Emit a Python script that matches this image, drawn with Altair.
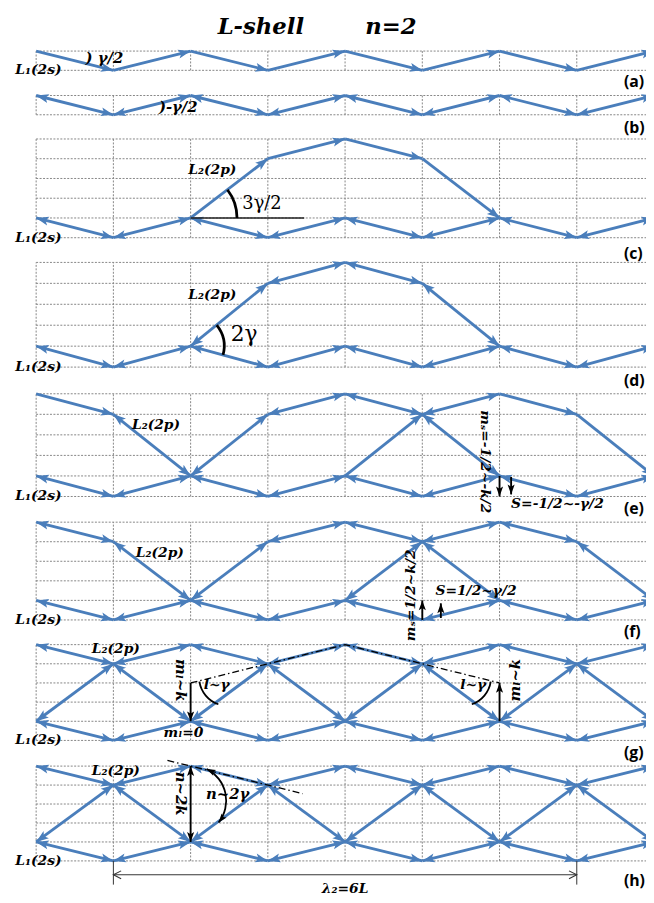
import math
import altair as alt
import pandas as pd

# ---------------- colours / fonts ----------------
BLUE = "#4A7EBB"
GRID = "#858585"
SERIF = "DejaVu Serif"
SANS = "Open Sans"

# ---------------- layout (page pixels) ----------------
WIDTH = 646
COL_PX = 78.2
X0_PX = 28.5
XDOM = [-X0_PX / COL_PX, (WIDTH - X0_PX) / COL_PX]

PANELS = ["a", "b", "c", "d", "e", "f", "g", "h"]
GRID_TOP = [46, 91, 135, 260, 393, 523, 647, 770]
ROW_PX = [19.5, 19.5, 20.0, 21.2, 20.8, 19.8, 19.4, 19.2]
N_ROWS = [1, 1, 5, 5, 5, 5, 5, 5]
REGION_TOP = [8, 84, 128, 250, 380, 510, 635, 758]
REGION_BOT = [84, 128, 250, 380, 510, 635, 758, 903]

# ---------------- data ----------------
GRID_COLS = [0, 1, 2, 3, 4, 5, 6, 7, 8]
L1_LEVELS = [1, 0, 1, 0, 1, 0, 1, 0, 1]
WAVE_COLS = [2, 3, 4, 5, 6]
WAVE_LEVELS = [1, 4, 5, 4, 1]
LATTICE_UPPER = [5, 4, 5, 4, 5, 4, 5, 4, 5]
LATTICE_LOWER = [1, 4, 1, 4, 1, 4, 1, 4, 1]
E_L2_SEGMENTS = [(0, 5, 1, 4, "end"), (1, 4, 2, 1, "both"), (2, 1, 3, 4, "both"),
                 (3, 4, 4, 5, "both"), (4, 5, 5, 4, "both"), (5, 4, 6, 1, "both"),
                 (4, 1, 5, 4, "end"), (5, 4, 6, 5, "both"), (6, 5, 7, 4, "end"),
                 (7, 4, 8, 1, "end")]
F_L2_SEGMENTS = [(0, 5, 1, 4, "both"), (1, 4, 2, 1, "both"), (2, 1, 3, 4, "both"),
                 (3, 4, 4, 5, "both"), (4, 5, 5, 4, "both"), (5, 4, 6, 1, "both"),
                 (4, 1, 5, 4, "both"), (5, 4, 6, 5, "both"), (6, 5, 7, 4, "both"),
                 (7, 4, 8, 1, "both")]

TITLE_TEXTS = [("L-shell", 2.35, 2.23), ("n=2", 4.26, 2.23)]
L1_LABEL = "L₁(2s)"
L2_LABEL = "L₂(2p)"
L1_LABEL_PANELS = ["a", "c", "d", "e", "f", "g", "h"]
L1_LABEL_POS = (-0.27, 0.0)
L2_LABEL_POS = {"c": (1.97, 3.45), "d": (1.97, 3.44), "e": (1.24, 3.46),
                "f": (1.29, 3.43), "g": (0.72, 4.78), "h": (0.72, 4.74)}
TAG_X = 7.61
TAG_Y = {"a": -0.59, "b": -0.69, "c": -0.85, "d": -0.66, "e": -0.63,
         "f": -0.6, "g": -0.67, "h": -1.05}

# (panel, x, y, text, size, angle, align)
ITALIC_NOTES = [
    ("a", 0.64, 0.62, ") γ/2", 15, 0, "left"),
    ("b", 1.59, 0.38, ")-γ/2", 15, 0, "left"),
    ("e", 5.81, 4.2, "mₛ=-1/2~-k/2", 14, 90, "left"),
    ("e", 6.15, -0.38, "S=-1/2~-γ/2", 14, 0, "left"),
    ("f", 4.85, 1.26, "mₛ=1/2~k/2", 14, 270, "center"),
    ("f", 5.17, 1.46, "S=1/2~γ/2", 14, 0, "left"),
    ("g", 1.88, 3.14, "mₗ~k", 15, 90, "center"),
    ("g", 6.2, 3.14, "mₗ~k", 15, 270, "center"),
    ("g", 2.17, 2.9, "l~γ", 14, 0, "left"),
    ("g", 5.49, 2.9, "l~γ", 14, 0, "left"),
    ("g", 1.65, 0.41, "mₗ=0", 14, 0, "left"),
    ("h", 1.88, 3.55, "n~2k", 15, 90, "center"),
    ("h", 2.2, 3.54, "n~2γ", 15, 0, "left"),
    ("h", 4.0, -1.5, "λ₂=6L", 14, 0, "center"),
]
MATH_NOTES = [("c", 2.67, 1.7, "3γ/2", 18), ("d", 2.52, 1.56, "2γ", 22)]

# (panel, x1, y1, x2, y2, heads)
BLACK_ARROWS = [("e", 6, 1, 6, 0, "end"), ("e", 6.15, 0.95, 6.15, 0.1, "end"),
                ("f", 5, 0, 5, 1, "end"), ("f", 5.24, 0.1, 5.24, 0.85, "end"),
                ("g", 2, 3, 2, 1, "end"), ("g", 6, 1, 6, 3, "end"),
                ("h", 2, 5, 2, 1, "both")]
BLACK_LINES = [("c", 2, 1, 3.47, 1)]
DASHDOT = {"g": ([2, 3, 4, 5, 6], [3, 4, 5, 4, 3]), "h": ([1.7, 3.45], [5.3, 3.55])}
# (panel, cx, cy, radius px, theta1 deg, theta2 deg, stroke px, arrows)
ARCS = [("c", 2, 1, 47, 52.5, 90, 2.8, False),
        ("d", 2, 1, 34, 51, 105, 2.8, False),
        ("g", 2.48, 3.3, 29, 199, 261, 1.8, False),
        ("g", 5.52, 3.3, 29, 99, 161, 1.8, False),
        ("h", 2, 3.18, 36, 27, 128, 1.8, True)]
DIM_H = {"x1": 1, "x2": 7, "y": -0.73, "ext": -1.25}

HEAD = "M0,0L0.72,2L0,1.55L-0.72,2Z"
OPEN_HEAD = "M-0.75,1.5L0,0L0.75,1.5"


def zig(cols, levels, heads):
    return [(cols[k], levels[k], cols[k + 1], levels[k + 1], heads) for k in range(len(cols) - 1)]


BLUE_SEGMENTS = {
    "a": zig(GRID_COLS, L1_LEVELS, "end"),
    "b": zig(GRID_COLS, L1_LEVELS, "both"),
    "c": zig(GRID_COLS, L1_LEVELS, "both") + zig(WAVE_COLS, WAVE_LEVELS, "end"),
    "d": zig(GRID_COLS, L1_LEVELS, "both") + zig(WAVE_COLS, WAVE_LEVELS, "both"),
    "e": zig(GRID_COLS, L1_LEVELS, "both") + E_L2_SEGMENTS,
    "f": zig(GRID_COLS, L1_LEVELS, "both") + F_L2_SEGMENTS,
    "g": zig(GRID_COLS, L1_LEVELS, "both") + zig(GRID_COLS, LATTICE_UPPER, "both")
         + zig(GRID_COLS, LATTICE_LOWER, "both"),
    "h": zig(GRID_COLS, L1_LEVELS, "both") + zig(GRID_COLS, LATTICE_UPPER, "both")
         + zig(GRID_COLS, LATTICE_LOWER, "both"),
}


# ---------------- helpers ----------------
def ydom(i):
    T, r, n = GRID_TOP[i], ROW_PX[i], N_ROWS[i]
    return [n - (REGION_BOT[i] - T) / r, n + (T - REGION_TOP[i]) / r]


def xenc(f="x"):
    return alt.X(f"{f}:Q", scale=alt.Scale(domain=XDOM, nice=False, zero=False), axis=None)


def yenc(i, f="y"):
    return alt.Y(f"{f}:Q", scale=alt.Scale(domain=ydom(i), nice=False, zero=False), axis=None)


def head_angle(xa, ya, xb, yb, i):
    dx = (xb - xa) * COL_PX
    dy = -(yb - ya) * ROW_PX[i]
    return math.degrees(math.atan2(dx, -dy)) % 360


def seg_frames(segs, i):
    lines, heads = [], []
    for k, (x1, y1, x2, y2, h) in enumerate(segs):
        lines += [dict(seg=k, o=0, x=x1, y=y1), dict(seg=k, o=1, x=x2, y=y2)]
        heads.append(dict(x=x2, y=y2, ang=head_angle(x1, y1, x2, y2, i)))
        if h == "both":
            heads.append(dict(x=x1, y=y1, ang=head_angle(x2, y2, x1, y1, i)))
    return pd.DataFrame(lines), pd.DataFrame(heads)


def line_layer(df, i, color, width, dash=None, clip=True):
    kw = dict(color=color, strokeWidth=width, clip=clip)
    if dash:
        kw["strokeDash"] = dash
    return alt.Chart(df).mark_line(**kw).encode(
        x=xenc(), y=yenc(i), detail="seg:N", order="o:Q")


def head_layer(df, i, color, size, shape=HEAD, filled=True, clip=True):
    if filled:
        mk = dict(shape=shape, filled=True, color=color, opacity=1, size=size,
                  strokeWidth=0, clip=clip)
    else:
        mk = dict(shape=shape, filled=False, color=color, opacity=1, size=size,
                  strokeWidth=1.1, clip=clip)
    return alt.Chart(df).mark_point(**mk).encode(
        x=xenc(), y=yenc(i), angle=alt.Angle("ang:Q", scale=None))


def text_layer(i, x, y, t, size, font=SERIF, style="italic", weight="bold",
               angle=0, align="left", color="black"):
    df = pd.DataFrame([{"x": x, "y": y, "t": t}])
    kw = dict(font=font, fontSize=size, fontWeight=weight, align=align,
              baseline="middle", color=color)
    if style:
        kw["fontStyle"] = style
    if angle:
        kw["angle"] = angle
    return alt.Chart(df).mark_text(**kw).encode(x=xenc(), y=yenc(i), text="t:N")


def arc_layer(i, cx, cy, r, t1, t2, w):
    df = pd.DataFrame([{"x": cx, "y": cy}])
    return alt.Chart(df).mark_arc(
        color="black", theta=math.radians(t1), theta2=math.radians(t2),
        radius=r + w / 2, radius2=r - w / 2).encode(x=xenc(), y=yenc(i))


# ---------------- build panels ----------------
panels = []
for i, p in enumerate(PANELS):
    n = N_ROWS[i]
    layers = []
    vdf = pd.DataFrame({"x": GRID_COLS, "y": [0] * len(GRID_COLS), "y2": [n] * len(GRID_COLS)})
    layers.append(alt.Chart(vdf).mark_rule(color=GRID, strokeDash=[2, 1.5], strokeWidth=1, clip=True)
                  .encode(x=xenc(), y=yenc(i), y2=alt.Y2("y2:Q")))
    hdf = pd.DataFrame({"y": list(range(n + 1)), "x": [0] * (n + 1), "x2": [8] * (n + 1)})
    layers.append(alt.Chart(hdf).mark_rule(color=GRID, strokeDash=[2, 1.5], strokeWidth=1, clip=True)
                  .encode(x=xenc(), x2=alt.X2("x2:Q"), y=yenc(i)))

    ldf, hdf2 = seg_frames(BLUE_SEGMENTS[p], i)
    layers.append(line_layer(ldf, i, BLUE, 2.9))
    layers.append(head_layer(hdf2, i, BLUE, 160))

    bl = [b for b in BLACK_LINES if b[0] == p]
    if bl:
        rows = []
        for k, (_, x1, y1, x2, y2) in enumerate(bl):
            rows += [dict(seg=k, o=0, x=x1, y=y1), dict(seg=k, o=1, x=x2, y=y2)]
        layers.append(line_layer(pd.DataFrame(rows), i, "#222222", 1.6))

    if p in DASHDOT:
        xs, ys = DASHDOT[p]
        ddf = pd.DataFrame({"seg": 0, "o": list(range(len(xs))), "x": xs, "y": ys})
        layers.append(line_layer(ddf, i, "black", 1.3, dash=[7, 3, 1.5, 3], clip=False))

    ba = [(b[1], b[2], b[3], b[4], b[5]) for b in BLACK_ARROWS if b[0] == p]
    if ba:
        l2, h2 = seg_frames(ba, i)
        layers.append(line_layer(l2, i, "black", 1.9, clip=False))
        layers.append(head_layer(h2, i, "black", 100, clip=False))

    for (_, cx, cy, r, t1, t2, w, arr) in [a for a in ARCS if a[0] == p]:
        layers.append(arc_layer(i, cx, cy, r, t1, t2, w))
        if arr:
            pts = []
            for th, ang in ((t1, (t1 - 90) % 360), (t2, (t2 + 90) % 360)):
                rad = math.radians(th)
                pts.append(dict(x=cx + r * math.sin(rad) / COL_PX,
                                y=cy + r * math.cos(rad) / ROW_PX[i], ang=ang))
            layers.append(head_layer(pd.DataFrame(pts), i, "black", 81, clip=False))

    if p == "h":
        d = DIM_H
        rows = [dict(seg=0, o=0, x=d["x1"], y=d["y"]), dict(seg=0, o=1, x=d["x2"], y=d["y"]),
                dict(seg=1, o=0, x=d["x1"], y=0), dict(seg=1, o=1, x=d["x1"], y=d["ext"]),
                dict(seg=2, o=0, x=d["x2"], y=0), dict(seg=2, o=1, x=d["x2"], y=d["ext"])]
        layers.append(line_layer(pd.DataFrame(rows), i, "#333333", 1.0, clip=False))
        heads = pd.DataFrame([dict(x=d["x1"], y=d["y"], ang=270), dict(x=d["x2"], y=d["y"], ang=90)])
        layers.append(head_layer(heads, i, "#333333", 110, shape=OPEN_HEAD, filled=False, clip=False))

    if p == "a":
        for (t, x, y) in TITLE_TEXTS:
            layers.append(text_layer(i, x, y, t, 23))
    if p in L1_LABEL_PANELS:
        layers.append(text_layer(i, L1_LABEL_POS[0], L1_LABEL_POS[1], L1_LABEL, 14))
    if p in L2_LABEL_POS:
        x, y = L2_LABEL_POS[p]
        layers.append(text_layer(i, x, y, L2_LABEL, 14))
    for (_, x, y, t, s, ang, al) in [q for q in ITALIC_NOTES if q[0] == p]:
        layers.append(text_layer(i, x, y, t, s, angle=ang, align=al))
    for (_, x, y, t, s) in [q for q in MATH_NOTES if q[0] == p]:
        layers.append(text_layer(i, x, y, t, s, style=None, weight="normal"))
    layers.append(text_layer(i, TAG_X, TAG_Y[p], f"({p})", 16, font=SANS, style=None, weight="bold"))

    panels.append(alt.layer(*layers).properties(width=WIDTH, height=REGION_BOT[i] - REGION_TOP[i]))

chart = alt.vconcat(*panels, spacing=0, bounds="flush").properties(padding=0).configure_view(stroke=None)

chart.save("out.html", embed_options={"renderer": "svg", "actions": False})
